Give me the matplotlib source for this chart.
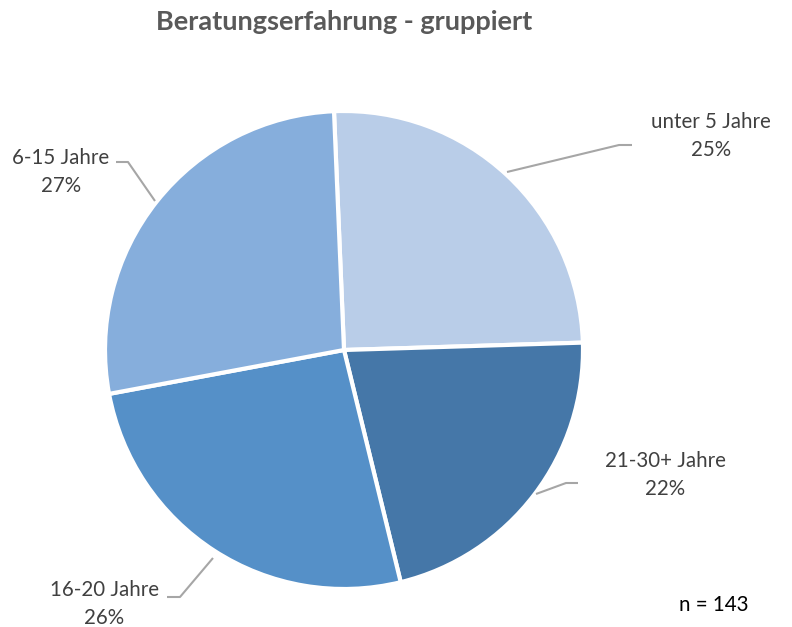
import matplotlib
matplotlib.use("Agg")
import matplotlib.pyplot as plt

categories = ["unter 5 Jahre", "21-30+ Jahre", "16-20 Jahre", "6-15 Jahre"]
counts = [36, 31, 37, 39]
percent_labels = ["25%", "22%", "26%", "27%"]
colors = ["#B9CDE8", "#4577A8", "#5590C8", "#86AEDC"]
title = "Beratungserfahrung - gruppiert"
n_text = "n = 143"

plt.rcParams['font.family'] = ['Lato', 'DejaVu Sans']

W, H = 792, 627
fig = plt.figure(figsize=(W / 100, H / 100), dpi=100)
ax = fig.add_axes([0, 0, 1, 1])

cx, cy, r = 344, H - 350, 239
ax.pie(counts, colors=colors, startangle=92.4, counterclock=False,
       center=(cx, cy), radius=r, frame=True,
       wedgeprops=dict(edgecolor='white', linewidth=3))
ax.set_xlim(0, W)
ax.set_ylim(0, H)
ax.set_aspect('equal')
ax.axis('off')

def Y(y):
    return H - y

label_specs = [
    (711, 122, [(507, 172), (619, 145), (632, 145)]),
    (665, 461, [(536, 494), (566, 483), (578, 483)]),
    (104, 590, [(213, 558), (180, 597), (167, 597)]),
    (61, 158, [(155, 201), (128, 162), (116, 162)]),
]
text_color = "#404040"
for cat, pct, (tx, ty, pts) in zip(categories, percent_labels, label_specs):
    xs = [p[0] for p in pts]
    ys = [Y(p[1]) for p in pts]
    ax.plot(xs, ys, color="#A6A6A6", linewidth=1.5, solid_capstyle='butt')
    ax.text(tx, Y(ty), cat, ha='center', va='center', fontsize=14.8, color=text_color)
    ax.text(tx, Y(ty + 28), pct, ha='center', va='center', fontsize=14.8, color=text_color)

ax.text(344, Y(22), title, ha='center', va='center', fontsize=19.5,
        fontweight='bold', color="#595959")
ax.text(714, Y(605), n_text, ha='center', va='center', fontsize=14.8, color="black")

fig.savefig("out.png", dpi=100)
